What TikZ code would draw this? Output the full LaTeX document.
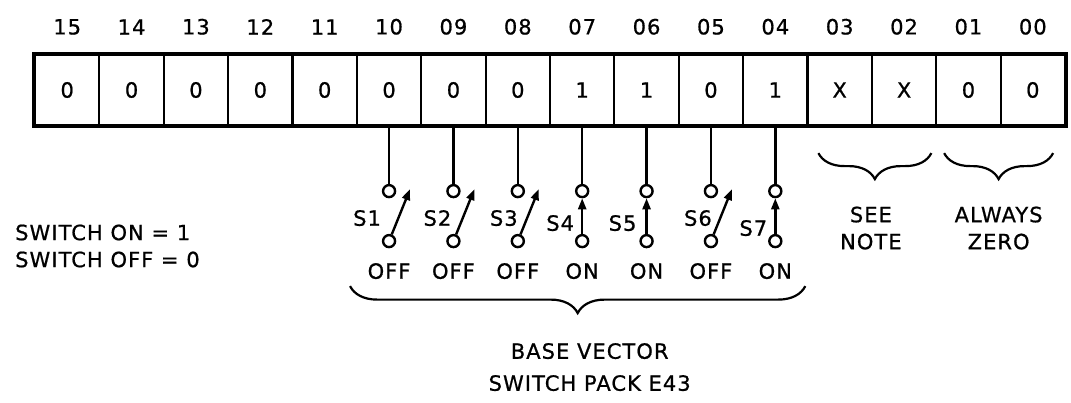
\documentclass[tikz,border=0pt]{standalone}
\usepackage{fontspec}
\setmainfont[LetterSpace=5, FakeBold=0.8]{DejaVu Sans}
\usetikzlibrary{calc}
\usetikzlibrary{positioning}
\usetikzlibrary{arrows.meta}
\usetikzlibrary{decorations.pathreplacing}
\tikzset{
  txt/.style={font=\fontsize{21}{27}\selectfont, inner sep=0pt},
  cell/.style={draw, line width=2.2pt, minimum width=64.375pt, minimum height=70pt, inner sep=0pt, font=\fontsize{21}{27}\selectfont},
  frame/.style={line width=4pt},
  wire/.style={line width=2.4pt},
  term/.style={circle, draw, line width=2.4pt, fill=white, minimum size=12pt, inner sep=0pt},
  arm/.style={line width=2.4pt, -{Triangle[length=11pt,width=8pt]}},
  brc/.style={line width=2.2pt, decorate, decoration={brace, mirror, amplitude=#1}},
}
\newcommand{\bitcell}[3]{\node[cell] (c#1) at ({35+(#2+0.5)*64.375},90) {#3};
  \node[txt, above=19pt of c#1.north] (n#1) {#1};}
\newcommand{\swbase}[4]{\node[term] (t#2) at ($(c#1.south)+(0,65)$) {};
  \node[term] (b#2) at ($(t#2)+(0,50)$) {};
  \draw[wire] (c#1.south) -- (t#2);
  \node[txt] (s#2) at ($(t#2)+(#3,#4)$) {S#2};}
\newcommand{\swon}[4]{\swbase{#1}{#2}{#3}{#4}
  \draw[arm] (b#2) -- (t#2);
  \node[txt] (st#2) at ($(b#2)+(0,30)$) {ON};}
\newcommand{\swoff}[4]{\swbase{#1}{#2}{#3}{#4}
  \coordinate (a#2) at ($(b#2)+(21,-52)$);
  \draw[arm] (b#2) -- (a#2);
  \node[txt] (st#2) at ($(b#2)+(0,30)$) {OFF};}

\begin{document}
\begin{tikzpicture}[x=1pt, y=-1pt]
    \useasboundingbox (0,0) rectangle (1071,402);
    % register cells
    \bitcell{15}{0}{0}
    \bitcell{14}{1}{0}
    \bitcell{13}{2}{0}
    \bitcell{12}{3}{0}
    \bitcell{11}{4}{0}
    \bitcell{10}{5}{0}
    \bitcell{09}{6}{0}
    \bitcell{08}{7}{0}
    \bitcell{07}{8}{1}
    \bitcell{06}{9}{1}
    \bitcell{05}{10}{0}
    \bitcell{04}{11}{1}
    \bitcell{03}{12}{X}
    \bitcell{02}{13}{X}
    \bitcell{01}{14}{0}
    \bitcell{00}{15}{0}
    \draw[frame] (c15.north west) rectangle (c00.south east);

    % switch pack
    \swoff{10}{1}{-22}{27}
    \swoff{09}{2}{-16}{27}
    \swoff{08}{3}{-14}{27}
    \swon{07}{4}{-22}{32}
    \swon{06}{5}{-24}{32}
    \swoff{05}{6}{-13}{27}
    \swon{04}{7}{-22}{37}

    % braces
    \coordinate (nl) at ($(c03.south west)+(12,27)$);
    \coordinate (nr) at ($(c02.south east)+(-6,27)$);
    \draw[brc=26pt] (nl) -- (nr);
    \node[txt, align=center] (seenote) at ($(nl)!0.5!(nr)+(-4,75)$) {SEE\\NOTE};
    \coordinate (zl) at ($(c01.south west)+(9,27)$);
    \coordinate (zr) at ($(c00.south east)+(-13,27)$);
    \draw[brc=26pt] (zl) -- (zr);
    \node[txt, align=center] (zero) at ($(zl)!0.5!(zr)+(0,75)$) {ALWAYS\\ZERO};
    \coordinate (bl) at ($(b1)+(-39,45)$);
    \coordinate (br) at ($(b7)+(30,45)$);
    \draw[brc=27pt] (bl) -- (br);
    \node[txt, align=center] (pack) at ($(bl)!0.5!(br)+(12,81)$) {BASE VECTOR\\[5pt]SWITCH PACK E43};

    % legend
    \node[txt, align=left, anchor=west] (legend) at (15,246) {SWITCH ON = 1\\SWITCH OFF = 0};
\end{tikzpicture}
\end{document}
